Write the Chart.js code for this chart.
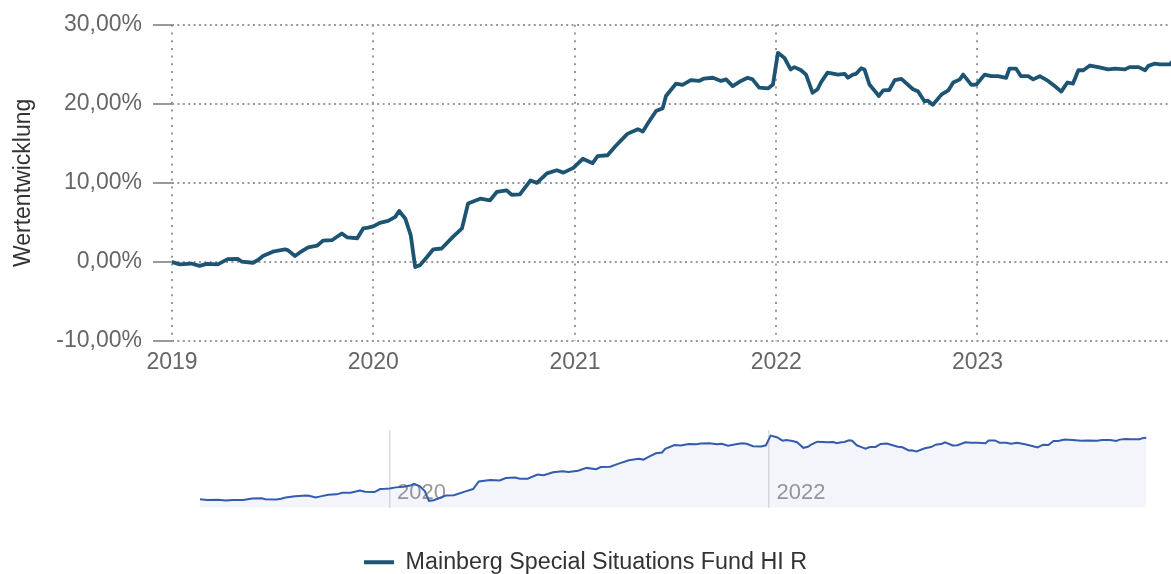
<!DOCTYPE html>
<html><head><meta charset="utf-8">
<script src="https://cdn.jsdelivr.net/npm/chart.js@4.4.1/dist/chart.umd.min.js"></script>
<style>
html,body{margin:0;padding:0;background:#fff;}
#wrap{position:relative;width:1171px;height:574px;overflow:hidden;background:#fff;}
canvas{position:absolute;left:0;}
</style></head><body>
<div id="wrap">
<canvas id="main" width="1171" height="574" style="top:0"></canvas>
<canvas id="nav" width="1171" height="100" style="top:415px"></canvas>
</div>
<script>
// ---- data ----
const seriesName = 'Mainberg Special Situations Fund HI R';
const dates = [
"2019-01-01","2019-01-15","2019-02-05","2019-02-20","2019-03-05","2019-03-25","2019-04-12","2019-04-30","2019-05-07","2019-05-28",
"2019-06-06","2019-06-15","2019-07-03","2019-07-25","2019-07-30","2019-08-12","2019-08-21","2019-09-05","2019-09-21","2019-10-02",
"2019-10-18","2019-11-05","2019-11-15","2019-12-03","2019-12-14","2019-12-23","2020-01-01","2020-01-13","2020-01-28","2020-02-10",
"2020-02-17","2020-02-28","2020-03-09","2020-03-17","2020-03-26","2020-04-09","2020-04-19","2020-05-04","2020-05-25","2020-06-10",
"2020-06-21","2020-07-13","2020-07-31","2020-08-12","2020-08-30","2020-09-08","2020-09-23","2020-10-12","2020-10-24","2020-11-11",
"2020-11-29","2020-12-11","2020-12-29","2021-01-15","2021-02-02","2021-02-11","2021-03-01","2021-03-16","2021-04-06","2021-04-25",
"2021-05-04","2021-05-13","2021-05-28","2021-06-09","2021-06-15","2021-07-03","2021-07-15","2021-07-30","2021-08-14","2021-08-23",
"2021-09-08","2021-09-23","2021-10-02","2021-10-14","2021-10-29","2021-11-10","2021-11-19","2021-12-01","2021-12-17","2021-12-26",
"2022-01-04","2022-01-16","2022-01-27","2022-02-03","2022-02-15","2022-02-24","2022-03-08","2022-03-17","2022-03-23","2022-04-04",
"2022-04-23","2022-05-05","2022-05-11","2022-05-20","2022-05-26","2022-06-04","2022-06-10","2022-06-19","2022-06-28","2022-07-06",
"2022-07-14","2022-07-25","2022-08-04","2022-08-16","2022-09-06","2022-09-15","2022-09-27","2022-10-03","2022-10-12","2022-10-28",
"2022-11-09","2022-11-18","2022-11-30","2022-12-06","2022-12-21","2022-12-30","2023-01-14","2023-01-26","2023-02-07","2023-02-22",
"2023-02-28","2023-03-12","2023-03-21","2023-04-03","2023-04-12","2023-04-24","2023-05-09","2023-05-21","2023-06-02","2023-06-13",
"2023-06-23","2023-07-03","2023-07-12","2023-07-24","2023-08-08","2023-08-26","2023-09-07","2023-09-25","2023-10-04","2023-10-20",
"2023-11-01","2023-11-07","2023-11-19","2023-11-28","2023-12-16","2023-12-21","2023-12-29"
];
const values = [
0.0,-0.3,-0.2,-0.5,-0.25,-0.3,0.35,0.4,0.05,-0.1,
0.25,0.75,1.3,1.6,1.5,0.75,1.2,1.85,2.05,2.7,
2.75,3.6,3.1,3.0,4.25,4.35,4.5,4.95,5.2,5.7,
6.45,5.5,3.4,-0.65,-0.4,0.75,1.6,1.7,3.2,4.25,
7.4,8.0,7.8,8.85,9.05,8.5,8.55,10.3,10.0,11.2,
11.6,11.3,11.9,13.05,12.5,13.4,13.5,14.7,16.2,16.8,
16.5,17.5,19.1,19.45,21.0,22.55,22.4,23.0,22.9,23.2,
23.3,22.9,23.1,22.25,22.9,23.3,23.1,22.05,21.95,22.45,
26.45,25.8,24.35,24.65,24.25,23.7,21.4,21.85,22.7,23.95,
23.7,23.8,23.3,23.7,23.8,24.5,24.35,22.45,21.7,21.0,
21.7,21.75,23.0,23.15,21.85,21.6,20.3,20.4,19.9,21.2,
21.7,22.7,23.1,23.7,22.4,22.45,23.7,23.5,23.5,23.3,
24.45,24.45,23.5,23.5,23.1,23.5,22.9,22.25,21.55,22.7,
22.55,24.25,24.25,24.85,24.65,24.35,24.45,24.35,24.65,24.65,
24.25,24.8,25.1,25.0,25.0,25.4,25.6
];
const yearTicks = [2019, 2020, 2021, 2022, 2023];
const navYearTicks = [2020, 2022];
const yTicks = [-10, 0, 10, 20, 30];
const mainXMax = "2023-12-18";

// ---- helpers ----
const toTs = s => { const p = s.split('-').map(Number); return Date.UTC(p[0], p[1]-1, p[2]); };
const pts = dates.map((d, i) => ({x: toTs(d), y: values[i]}));
const FONT = '"Liberation Sans", Arial, Helvetica, sans-serif';
const LINE = '#1d5472';
const H = 574, PLOT_BOTTOM = 341, PAD_BOTTOM = -10;

new Chart(document.getElementById('main'), {
  type: 'line',
  data: { datasets: [{
    label: seriesName, data: pts, borderColor: LINE, backgroundColor: LINE,
    borderWidth: 3.8, pointRadius: 0, tension: 0, fill: false,
    borderJoinStyle: 'round', borderCapStyle: 'round'
  }]},
  options: {
    responsive: false, animation: false,
    layout: { padding: { top: 23, left: 0, right: 0, bottom: PAD_BOTTOM } },
    plugins: {
      tooltip: { enabled: false },
      legend: {
        position: 'bottom',
        labels: {
          boxWidth: 30, boxHeight: 4, padding: 6, color: '#333',
          font: { family: FONT, size: 23.3 },
          generateLabels: chart => {
            const items = Chart.defaults.plugins.legend.labels.generateLabels(chart);
            items.forEach(it => { it.lineWidth = 0; it.fillStyle = LINE; });
            return items;
          }
        }
      }
    },
    scales: {
      x: {
        type: 'linear', min: toTs(dates[0]), max: toTs(mainXMax),
        afterBuildTicks: s => { s.ticks = yearTicks.map(y => ({ value: Date.UTC(y, 0, 1) })); },
        ticks: {
          callback: v => String(new Date(v).getUTCFullYear()),
          color: '#666', font: { family: FONT, size: 23 }, padding: 8,
          maxRotation: 0, autoSkip: false
        },
        grid: { color: '#999', lineWidth: 2, drawTicks: false },
        border: { display: false, dash: [2, 5.7] },
        afterFit: s => { const lg = s.chart.legend; s.height = H - PAD_BOTTOM - PLOT_BOTTOM - (lg ? lg.height : 0); }
      },
      y: {
        min: -10, max: 30,
        afterBuildTicks: s => { s.ticks = yTicks.map(v => ({ value: v })); },
        ticks: {
          callback: v => v.toFixed(2).replace('.', ',') + '%',
          color: '#666', font: { family: FONT, size: 23 }, padding: 11
        },
        grid: { color: '#999', lineWidth: 2, tickLength: 19, tickColor: '#777', tickWidth: 1.5, tickBorderDash: [] },
        border: { display: false, dash: [2, 3.4] },
        title: { display: true, text: 'Wertentwicklung', color: '#333', font: { family: FONT, size: 23 }, padding: { top: 10, bottom: 0 } },
        afterFit: s => { s.width = 172; }
      }
    }
  }
});

new Chart(document.getElementById('nav'), {
  type: 'line',
  data: { datasets: [{
    label: seriesName, data: pts, borderColor: '#335cad', backgroundColor: 'rgba(51,92,173,0.06)',
    borderWidth: 2, pointRadius: 0, tension: 0, fill: 'start'
  }]},
  options: {
    responsive: false, animation: false,
    layout: { padding: { left: 200, right: 24.5, top: 15, bottom: 0 } },
    plugins: { legend: { display: false }, tooltip: { enabled: false } },
    scales: {
      x: {
        type: 'linear', min: toTs(dates[0]), max: toTs(dates[dates.length - 1]),
        afterBuildTicks: s => { s.ticks = navYearTicks.map(y => ({ value: Date.UTC(y, 0, 1) })); },
        ticks: {
          callback: v => String(new Date(v).getUTCFullYear()),
          align: 'start', labelOffset: 7.5, mirror: true, padding: 1.5,
          color: '#999', font: { family: FONT, size: 22 }, maxRotation: 0, autoSkip: false
        },
        grid: { color: '#dddddd', lineWidth: 1.5, drawTicks: false },
        border: { display: false },
        afterFit: s => { s.height = 7.3; }
      },
      y: { display: false, min: -3.5, max: 28.8 }
    }
  }
});
</script>
</body></html>
